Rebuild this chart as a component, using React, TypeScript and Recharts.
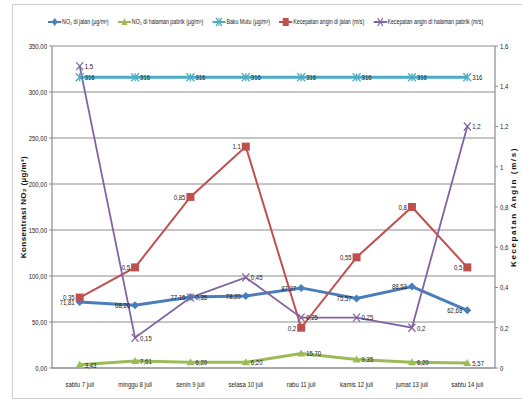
import { ComposedChart, Line, XAxis, YAxis, CartesianGrid } from 'recharts';

const days = ['sabtu 7 juli', 'minggu 8 juli', 'senin 9 juli', 'selasa 10 juli', 'rabu 11 juli', 'kamis 12 juli', 'jumat 13 juli', 'sabtu 14 juli'];
const no2Jalan = [71.81, 68.26, 77.15, 78.2, 87.07, 75.57, 88.53, 62.68];
const no2Pabrik = [3.43, 7.61, 6.2, 6.2, 15.7, 9.35, 6.2, 5.57];
const bakuMutu = [316, 316, 316, 316, 316, 316, 316, 316];
const anginJalan = [0.35, 0.5, 0.85, 1.1, 0.2, 0.55, 0.8, 0.5];
const anginPabrik = [1.5, 0.15, 0.35, 0.45, 0.25, 0.25, 0.2, 1.2];
const leftTicks = [0, 50, 100, 150, 200, 250, 300, 350];
const rightTicks = [0, 0.2, 0.4, 0.6, 0.8, 1, 1.2, 1.4, 1.6];

const data = days.map((day, i) => ({
  day,
  no2Jalan: no2Jalan[i],
  no2Pabrik: no2Pabrik[i],
  bakuMutu: bakuMutu[i],
  anginJalan: anginJalan[i],
  anginPabrik: anginPabrik[i],
}));

const COLORS = {
  blue: '#4A7EBB',
  green: '#9BBB59',
  cyan: '#4BACC6',
  red: '#C0504D',
  purple: '#8064A2',
};

const FONT = "'Liberation Sans', Arial, sans-serif";
// no narrow face installed, so text is squeezed horizontally instead
const SQUEEZE = 0.75;
const comma = (v: number | string) => String(v).replace('.', ',');
const fixed2 = (v: number) => v.toFixed(2).replace('.', ',');

function NarrowText({ x, y, anchor, dy, children }: { x: number; y: number; anchor: 'start' | 'middle' | 'end'; dy?: string; children: any }) {
  return (
    <text
      transform={`translate(${x},${y}) scale(${SQUEEZE},1)`}
      textAnchor={anchor}
      dy={dy}
      fontFamily={FONT}
      fontSize={8}
      fill="#1a1a1a"
    >
      {children}
    </text>
  );
}

const XTick = (props: any) => (
  <NarrowText x={props.x} y={props.y} anchor="middle" dy="0.71em">
    {props.payload.value}
  </NarrowText>
);

const yTick = (anchor: 'start' | 'end', fmt: (v: number) => string) => (props: any) => (
  <NarrowText x={props.x} y={props.y} anchor={anchor} dy="0.35em">
    {fmt(props.payload.value)}
  </NarrowText>
);

// marker shapes, Excel style
type Mark = 'diamond' | 'triangle' | 'asterisk' | 'square' | 'cross';

function Marker({ cx, cy, type, color }: { cx: number; cy: number; type: Mark; color: string }) {
  const r = 4;
  switch (type) {
    case 'diamond':
      return <polygon points={`${cx},${cy - r} ${cx + r},${cy} ${cx},${cy + r} ${cx - r},${cy}`} fill={color} />;
    case 'triangle':
      return <polygon points={`${cx},${cy - r} ${cx + r},${cy + 3} ${cx - r},${cy + 3}`} fill={color} />;
    case 'square':
      return <rect x={cx - 4} y={cy - 4} width={8} height={8} fill={color} />;
    case 'asterisk':
      return (
        <g stroke={color} strokeWidth={1.3}>
          <line x1={cx - r} y1={cy - r} x2={cx + r} y2={cy + r} />
          <line x1={cx - r} y1={cy + r} x2={cx + r} y2={cy - r} />
          <line x1={cx} y1={cy - r} x2={cx} y2={cy + r} />
        </g>
      );
    default:
      return (
        <g stroke={color} strokeWidth={1.2}>
          <line x1={cx - 3.5} y1={cy - 4} x2={cx + 3.5} y2={cy + 4} />
          <line x1={cx - 3.5} y1={cy + 4} x2={cx + 3.5} y2={cy - 4} />
        </g>
      );
  }
}

// point marker plus its value label beside it
const dot = (type: Mark, color: string, side: 'left' | 'right', fmt: (v: number) => string) => (props: any) => {
  if (props.cx == null || props.cy == null) return <g key={`${type}-${props.index}`} />;
  const gap = 5;
  return (
    <g key={`${type}-${props.index}`}>
      <Marker cx={props.cx} cy={props.cy} type={type} color={color} />
      <NarrowText
        x={side === 'left' ? props.cx - gap : props.cx + gap}
        y={props.cy}
        anchor={side === 'left' ? 'end' : 'start'}
        dy="0.35em"
      >
        {fmt(props.value)}
      </NarrowText>
    </g>
  );
};

const legendItems: { label: string; color: string; type: Mark }[] = [
  { label: 'NO₂ di jalan (µg/m³)', color: COLORS.blue, type: 'diamond' },
  { label: 'NO₂ di halaman pabrik (µg/m³)', color: COLORS.green, type: 'triangle' },
  { label: 'Baku Mutu (µg/m³)', color: COLORS.cyan, type: 'asterisk' },
  { label: 'Kecepatan angin di jalan (m/s)', color: COLORS.red, type: 'square' },
  { label: 'Kecepatan angin di halaman pabrik (m/s)', color: COLORS.purple, type: 'cross' },
];

function ChartLegend() {
  return (
    <div
      style={{
        position: 'absolute',
        left: 0,
        top: 17,
        width: 522 / SQUEEZE,
        paddingLeft: 12,
        boxSizing: 'border-box',
        transform: `scaleX(${SQUEEZE})`,
        transformOrigin: '0 0',
        display: 'flex',
        justifyContent: 'center',
        gap: 12,
        fontFamily: FONT,
        fontSize: 7,
        lineHeight: '10px',
        color: '#222',
        whiteSpace: 'nowrap',
      }}
    >
      {legendItems.map((item) => (
        <div key={item.label} style={{ display: 'flex', alignItems: 'center', gap: 1 }}>
          <svg width={18} height={10}>
            <line x1={0} y1={5} x2={18} y2={5} stroke={item.color} strokeWidth={2} />
            <Marker cx={9} cy={5} type={item.type} color={item.color} />
          </svg>
          <span>{item.label}</span>
        </div>
      ))}
    </div>
  );
}

const axisTitle = (text: string, x: number, spacing: number) => (props: any) => {
  const vb = props.viewBox;
  const cy = vb.y + vb.height / 2;
  return (
    <text
      x={x}
      y={cy}
      transform={`rotate(-90 ${x} ${cy})`}
      textAnchor="middle"
      dominantBaseline="central"
      fontFamily={FONT}
      fontWeight="bold"
      fontSize={8}
      letterSpacing={spacing}
      fill="#111"
    >
      {text}
    </text>
  );
};

const axisStroke = { stroke: '#8c8c8c', strokeWidth: 1.2 };

export default function App() {
  return (
    <div style={{ position: 'relative', width: 522, height: 401, background: '#fff', overflow: 'hidden' }}>
      <style>{'body{margin:0}'}</style>
      <div style={{ position: 'absolute', left: 12, top: 4, width: 520, height: 393, border: '1px solid #d0d0d0' }} />
      <ChartLegend />
      <ComposedChart
        width={522}
        height={401}
        data={data}
        margin={{ top: 46, right: 0, bottom: 8, left: 0 }}
        style={{ position: 'absolute', left: 0, top: 0 }}
      >
        <CartesianGrid yAxisId="left" vertical={false} stroke="#8c8c8c" strokeWidth={1.2} />
        <XAxis
          dataKey="day"
          height={25}
          padding={{ left: 27.7, right: 27.7 }}
          tickLine={false}
          tickSize={0}
          tickMargin={13}
          axisLine={axisStroke}
          tick={XTick}
          interval={0}
        />
        <YAxis
          yAxisId="left"
          width={52}
          domain={[0, 350]}
          ticks={leftTicks}
          tickSize={3}
          tickMargin={2}
          axisLine={axisStroke}
          tickLine={{ stroke: '#8c8c8c' }}
          tick={yTick('end', fixed2)}
          label={{ content: axisTitle('Konsentrasi NO₂ (µg/m³)', 23, 0.4) }}
        />
        <YAxis
          yAxisId="right"
          orientation="right"
          width={27}
          domain={[0, 1.6]}
          ticks={rightTicks}
          tickSize={3}
          tickMargin={2}
          axisLine={axisStroke}
          tickLine={{ stroke: '#8c8c8c' }}
          tick={yTick('start', comma)}
          label={{ content: axisTitle('Kecepatan Angin (m/s)', 513, 1.6) }}
        />
        <Line
          yAxisId="left"
          dataKey="no2Jalan"
          name="NO₂ di jalan (µg/m³)"
          stroke={COLORS.blue}
          strokeWidth={3}
          dot={dot('diamond', COLORS.blue, 'left', fixed2)}
          isAnimationActive={false}
        />
        <Line
          yAxisId="left"
          dataKey="no2Pabrik"
          name="NO₂ di halaman pabrik (µg/m³)"
          stroke={COLORS.green}
          strokeWidth={3}
          dot={dot('triangle', COLORS.green, 'right', fixed2)}
          isAnimationActive={false}
        />
        <Line
          yAxisId="left"
          dataKey="bakuMutu"
          name="Baku Mutu (µg/m³)"
          stroke={COLORS.cyan}
          strokeWidth={3}
          dot={dot('asterisk', COLORS.cyan, 'right', comma)}
          isAnimationActive={false}
        />
        <Line
          yAxisId="right"
          dataKey="anginJalan"
          name="Kecepatan angin di jalan (m/s)"
          stroke={COLORS.red}
          strokeWidth={2}
          dot={dot('square', COLORS.red, 'left', comma)}
          isAnimationActive={false}
        />
        <Line
          yAxisId="right"
          dataKey="anginPabrik"
          name="Kecepatan angin di halaman pabrik (m/s)"
          stroke={COLORS.purple}
          strokeWidth={1.8}
          dot={dot('cross', COLORS.purple, 'right', comma)}
          isAnimationActive={false}
        />
      </ComposedChart>
    </div>
  );
}
